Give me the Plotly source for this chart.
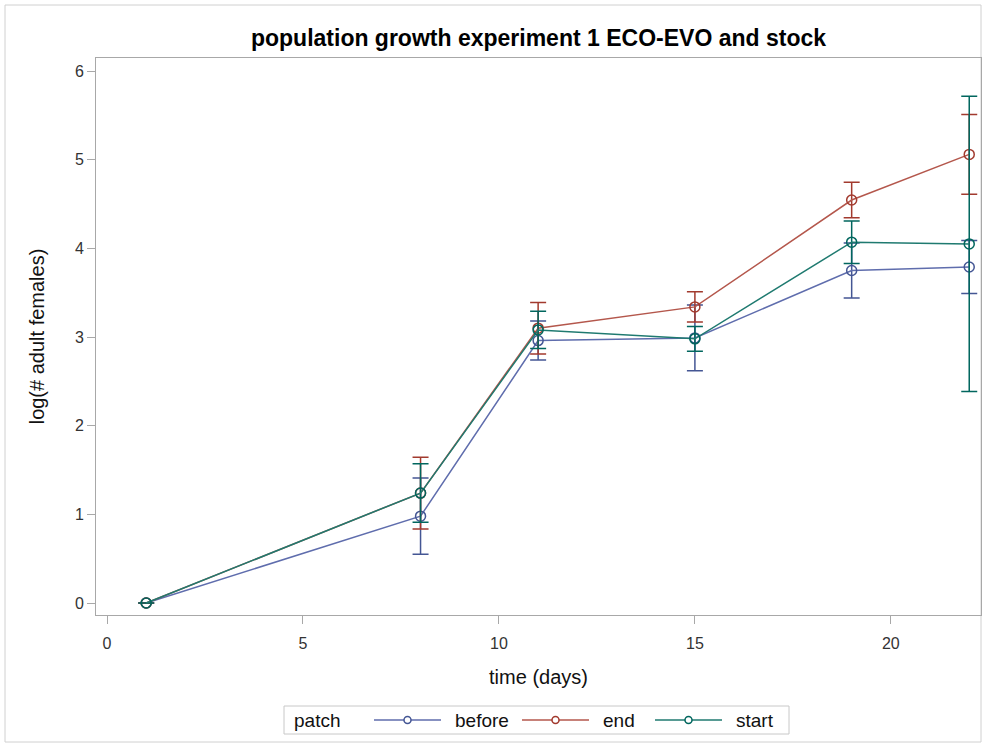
import plotly.graph_objects as go

# Sampling days and log(# adult females) per patch, with error-bar half widths
days = [1, 8, 11, 15, 19, 22]

before_mean = [0.0, 0.98, 2.96, 2.99, 3.75, 3.79]
before_err = [None, 0.43, 0.22, 0.37, 0.31, 0.30]

end_mean = [0.0, 1.24, 3.10, 3.34, 4.545, 5.06]
end_err = [None, 0.405, 0.29, 0.17, 0.20, 0.45]

start_mean = [0.0, 1.24, 3.08, 2.98, 4.07, 4.05]
start_err = [None, 0.33, 0.21, 0.14, 0.24, 1.665]

patch_names = ["before", "end", "start"]
mark_colors = ["#445694", "#A23A2E", "#01665E"]
line_colors = ["#5f6dad", "#b4574c", "#1f7a70"]
means = [before_mean, end_mean, start_mean]
errs = [before_err, end_err, start_err]

W, H = 987, 747
L, R, T, B = 96, 981, 58, 615
FONT = "Liberation Sans, Arial, sans-serif"

fig = go.Figure()
for name, mean, err, mc, lc in zip(patch_names, means, errs, mark_colors, line_colors):
    fig.add_trace(go.Scatter(
        x=days, y=mean, name=name, mode="lines+markers", showlegend=False,
        line=dict(color=lc, width=1.5),
        marker=dict(symbol="circle-open", size=10, color=mc,
                    line=dict(color=mc, width=1.5)),
        error_y=dict(type="data", array=err, visible=True,
                     color=mc, thickness=1.5, width=8),
    ))

def px_to_paper_x(px):
    return (px - L) / (R - L)

def px_to_paper_y(py):
    return (B - py) / (B - T)

shapes = [
    # outer graph border
    dict(type="rect", xref="paper", yref="paper", layer="below",
         x0=px_to_paper_x(5), x1=px_to_paper_x(981),
         y0=px_to_paper_y(742), y1=px_to_paper_y(5),
         line=dict(color="#d0d0d0", width=1), fillcolor="rgba(0,0,0,0)"),
    # legend frame
    dict(type="rect", xref="paper", yref="paper",
         x0=px_to_paper_x(284), x1=px_to_paper_x(789),
         y0=px_to_paper_y(734), y1=px_to_paper_y(706),
         line=dict(color="#c8c8c8", width=1), fillcolor="white"),
]
annotations = [
    dict(text="patch", xref="paper", yref="paper",
         x=px_to_paper_x(292), y=px_to_paper_y(720),
         xanchor="left", yanchor="middle", showarrow=False,
         font=dict(family=FONT, size=19, color="#111111")),
]

# legend entries: sample line with a small open circle, then the patch label
legend_x = [374, 522, 655]
legend_len = 67
ly = px_to_paper_y(720)
for name, mc, lc, lx in zip(patch_names, mark_colors, line_colors, legend_x):
    shapes.append(dict(type="line", xref="paper", yref="paper",
                       x0=px_to_paper_x(lx), x1=px_to_paper_x(lx + legend_len),
                       y0=ly, y1=ly, line=dict(color=lc, width=1.5)))
    cx = px_to_paper_x(lx + legend_len / 2)
    shapes.append(dict(type="circle", xref="paper", yref="paper",
                       xsizemode="pixel", ysizemode="pixel",
                       xanchor=cx, yanchor=ly, x0=-3.5, x1=3.5, y0=-3.5, y1=3.5,
                       line=dict(color=mc, width=1.5), fillcolor="white"))
    annotations.append(dict(text=name, xref="paper", yref="paper",
                            x=px_to_paper_x(lx + legend_len + 12), y=ly,
                            xanchor="left", yanchor="middle", showarrow=False,
                            font=dict(family=FONT, size=19, color="#111111")))

fig.update_layout(
    width=W, height=H, autosize=False,
    margin=dict(l=L, r=W - R, t=T, b=H - B, pad=0),
    paper_bgcolor="white", plot_bgcolor="white",
    font=dict(family=FONT, size=16, color="#333333"),
    showlegend=False,
    title=dict(text="<b>population growth experiment 1 ECO-EVO and stock</b>",
               x=0.5, xref="paper", xanchor="center",
               y=1 - 38 / H, yref="container", yanchor="middle",
               font=dict(family=FONT, size=23, color="#000000")),
    xaxis=dict(range=[-0.281, 22.30], tickvals=[0, 5, 10, 15, 20],
               showgrid=False, zeroline=False,
               showline=True, linecolor="#a8a8a8", linewidth=1, mirror=True,
               ticks="outside", ticklen=8, tickcolor="#a8a8a8",
               ticklabelstandoff=6,
               tickfont=dict(size=16, color="#333333"),
               title=dict(text="time (days)", standoff=18,
                          font=dict(size=20, color="#111111"))),
    yaxis=dict(range=[-0.135, 6.147], tickvals=[0, 1, 2, 3, 4, 5, 6],
               showgrid=False, zeroline=False,
               showline=True, linecolor="#a8a8a8", linewidth=1, mirror=True,
               ticks="outside", ticklen=8, tickcolor="#a8a8a8",
               tickfont=dict(size=16, color="#333333"),
               title=dict(text="log(# adult females)", standoff=24,
                          font=dict(size=20, color="#111111"))),
    shapes=shapes,
    annotations=annotations,
)

fig.write_html("out.html")
